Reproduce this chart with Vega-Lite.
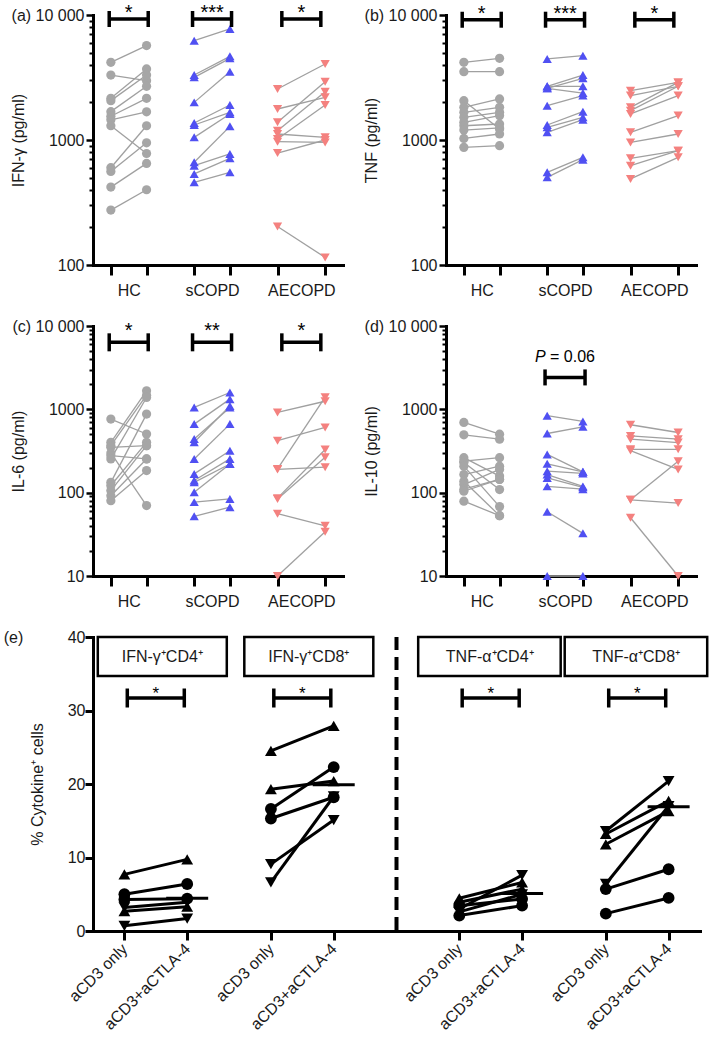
{
"$schema": "https://vega.github.io/schema/vega-lite/v6.json",
"padding": {"left": 3, "top": 2, "right": 0, "bottom": 0},
"background": "white",
"config": {
  "font": "Liberation Sans",
  "view": {"stroke": null},
  "axis": {"domainColor": "#000", "domainWidth": 3, "domainCap": "square", "tickColor": "#000", "tickWidth": 3, "labelFont": "Liberation Sans", "labelFontSize": 16, "labelColor": "#1a1a1a", "titleFont": "Liberation Sans", "titleFontSize": 16, "titleFontWeight": "normal", "titleColor": "#1a1a1a", "grid": false, "labelOverlap": false}
},
"datasets": {
  "ifng": [
    {"group":"HC","donor":"HC1","col":"HC|pre","value":4180},{"group":"HC","donor":"HC1","col":"HC|post","value":5690},
    {"group":"HC","donor":"HC2","col":"HC|pre","value":3310},{"group":"HC","donor":"HC2","col":"HC|post","value":2985},
    {"group":"HC","donor":"HC3","col":"HC|pre","value":2155},{"group":"HC","donor":"HC3","col":"HC|post","value":3700},
    {"group":"HC","donor":"HC4","col":"HC|pre","value":2065},{"group":"HC","donor":"HC4","col":"HC|post","value":3310},
    {"group":"HC","donor":"HC5","col":"HC|pre","value":1686},{"group":"HC","donor":"HC5","col":"HC|post","value":2690},
    {"group":"HC","donor":"HC6","col":"HC|pre","value":1550},{"group":"HC","donor":"HC6","col":"HC|post","value":2155},
    {"group":"HC","donor":"HC7","col":"HC|pre","value":1450},{"group":"HC","donor":"HC7","col":"HC|post","value":1680},
    {"group":"HC","donor":"HC8","col":"HC|pre","value":1300},{"group":"HC","donor":"HC8","col":"HC|post","value":780},
    {"group":"HC","donor":"HC9","col":"HC|pre","value":600},{"group":"HC","donor":"HC9","col":"HC|post","value":1300},
    {"group":"HC","donor":"HC10","col":"HC|pre","value":560},{"group":"HC","donor":"HC10","col":"HC|post","value":950},
    {"group":"HC","donor":"HC11","col":"HC|pre","value":420},{"group":"HC","donor":"HC11","col":"HC|post","value":650},
    {"group":"HC","donor":"HC12","col":"HC|pre","value":275},{"group":"HC","donor":"HC12","col":"HC|post","value":400},
    {"group":"sCOPD","donor":"S1","col":"sCOPD|pre","value":6230},{"group":"sCOPD","donor":"S1","col":"sCOPD|post","value":7730},
    {"group":"sCOPD","donor":"S2","col":"sCOPD|pre","value":3310},{"group":"sCOPD","donor":"S2","col":"sCOPD|post","value":4670},
    {"group":"sCOPD","donor":"S3","col":"sCOPD|pre","value":3170},{"group":"sCOPD","donor":"S3","col":"sCOPD|post","value":4500},
    {"group":"sCOPD","donor":"S4","col":"sCOPD|pre","value":2000},{"group":"sCOPD","donor":"S4","col":"sCOPD|post","value":3520},
    {"group":"sCOPD","donor":"S5","col":"sCOPD|pre","value":1368},{"group":"sCOPD","donor":"S5","col":"sCOPD|post","value":1905},
    {"group":"sCOPD","donor":"S6","col":"sCOPD|pre","value":1318},{"group":"sCOPD","donor":"S6","col":"sCOPD|post","value":1665},
    {"group":"sCOPD","donor":"S7","col":"sCOPD|pre","value":1050},{"group":"sCOPD","donor":"S7","col":"sCOPD|post","value":1615},
    {"group":"sCOPD","donor":"S8","col":"sCOPD|pre","value":663},{"group":"sCOPD","donor":"S8","col":"sCOPD|post","value":1286},
    {"group":"sCOPD","donor":"S9","col":"sCOPD|pre","value":623},{"group":"sCOPD","donor":"S9","col":"sCOPD|post","value":773},
    {"group":"sCOPD","donor":"S10","col":"sCOPD|pre","value":535},{"group":"sCOPD","donor":"S10","col":"sCOPD|post","value":714},
    {"group":"sCOPD","donor":"S11","col":"sCOPD|pre","value":459},{"group":"sCOPD","donor":"S11","col":"sCOPD|post","value":551},
    {"group":"AECOPD","donor":"A1","col":"AECOPD|pre","value":2560},{"group":"AECOPD","donor":"A1","col":"AECOPD|post","value":4055},
    {"group":"AECOPD","donor":"A2","col":"AECOPD|pre","value":1770},{"group":"AECOPD","donor":"A2","col":"AECOPD|post","value":2195},
    {"group":"AECOPD","donor":"A3","col":"AECOPD|pre","value":1385},{"group":"AECOPD","donor":"A3","col":"AECOPD|post","value":2930},
    {"group":"AECOPD","donor":"A4","col":"AECOPD|pre","value":1188},{"group":"AECOPD","donor":"A4","col":"AECOPD|post","value":2435},
    {"group":"AECOPD","donor":"A5","col":"AECOPD|pre","value":1117},{"group":"AECOPD","donor":"A5","col":"AECOPD|post","value":1050},
    {"group":"AECOPD","donor":"A6","col":"AECOPD|pre","value":1019},{"group":"AECOPD","donor":"A6","col":"AECOPD|post","value":1905},
    {"group":"AECOPD","donor":"A7","col":"AECOPD|pre","value":970},{"group":"AECOPD","donor":"A7","col":"AECOPD|post","value":957},
    {"group":"AECOPD","donor":"A8","col":"AECOPD|pre","value":787},{"group":"AECOPD","donor":"A8","col":"AECOPD|post","value":1000},
    {"group":"AECOPD","donor":"A9","col":"AECOPD|pre","value":203},{"group":"AECOPD","donor":"A9","col":"AECOPD|post","value":115}
  ],
  "tnf": [
    {"group":"HC","donor":"HC1","col":"HC|pre","value":4180},{"group":"HC","donor":"HC1","col":"HC|post","value":4500},
    {"group":"HC","donor":"HC2","col":"HC|pre","value":3520},{"group":"HC","donor":"HC2","col":"HC|post","value":3520},
    {"group":"HC","donor":"HC3","col":"HC|pre","value":2065},{"group":"HC","donor":"HC3","col":"HC|post","value":1225},
    {"group":"HC","donor":"HC4","col":"HC|pre","value":1825},{"group":"HC","donor":"HC4","col":"HC|post","value":2130},
    {"group":"HC","donor":"HC5","col":"HC|pre","value":1665},{"group":"HC","donor":"HC5","col":"HC|post","value":1825},
    {"group":"HC","donor":"HC6","col":"HC|pre","value":1520},{"group":"HC","donor":"HC6","col":"HC|post","value":1665},
    {"group":"HC","donor":"HC7","col":"HC|pre","value":1385},{"group":"HC","donor":"HC7","col":"HC|post","value":1567},
    {"group":"HC","donor":"HC8","col":"HC|pre","value":1300},{"group":"HC","donor":"HC8","col":"HC|post","value":1343},
    {"group":"HC","donor":"HC9","col":"HC|pre","value":1200},{"group":"HC","donor":"HC9","col":"HC|post","value":1250},
    {"group":"HC","donor":"HC10","col":"HC|pre","value":1030},{"group":"HC","donor":"HC10","col":"HC|post","value":1117},
    {"group":"HC","donor":"HC11","col":"HC|pre","value":873},{"group":"HC","donor":"HC11","col":"HC|post","value":901},
    {"group":"sCOPD","donor":"S1","col":"sCOPD|pre","value":4450},{"group":"sCOPD","donor":"S1","col":"sCOPD|post","value":4730},
    {"group":"sCOPD","donor":"S2","col":"sCOPD|pre","value":2690},{"group":"sCOPD","donor":"S2","col":"sCOPD|post","value":3310},
    {"group":"sCOPD","donor":"S3","col":"sCOPD|pre","value":2690},{"group":"sCOPD","donor":"S3","col":"sCOPD|post","value":2690},
    {"group":"sCOPD","donor":"S4","col":"sCOPD|pre","value":2590},{"group":"sCOPD","donor":"S4","col":"sCOPD|post","value":3115},
    {"group":"sCOPD","donor":"S5","col":"sCOPD|pre","value":2590},{"group":"sCOPD","donor":"S5","col":"sCOPD|post","value":2375},
    {"group":"sCOPD","donor":"S6","col":"sCOPD|pre","value":1883},{"group":"sCOPD","donor":"S6","col":"sCOPD|post","value":2265},
    {"group":"sCOPD","donor":"S7","col":"sCOPD|pre","value":1318},{"group":"sCOPD","donor":"S7","col":"sCOPD|post","value":1686},
    {"group":"sCOPD","donor":"S8","col":"sCOPD|pre","value":1262},{"group":"sCOPD","donor":"S8","col":"sCOPD|post","value":1518},
    {"group":"sCOPD","donor":"S9","col":"sCOPD|pre","value":1152},{"group":"sCOPD","donor":"S9","col":"sCOPD|post","value":1455},
    {"group":"sCOPD","donor":"S10","col":"sCOPD|pre","value":551},{"group":"sCOPD","donor":"S10","col":"sCOPD|post","value":727},
    {"group":"sCOPD","donor":"S11","col":"sCOPD|pre","value":503},{"group":"sCOPD","donor":"S11","col":"sCOPD|post","value":696},
    {"group":"AECOPD","donor":"A1","col":"AECOPD|pre","value":2480},{"group":"AECOPD","donor":"A1","col":"AECOPD|post","value":2890},
    {"group":"AECOPD","donor":"A2","col":"AECOPD|pre","value":2265},{"group":"AECOPD","donor":"A2","col":"AECOPD|post","value":2690},
    {"group":"AECOPD","donor":"A3","col":"AECOPD|pre","value":1825},{"group":"AECOPD","donor":"A3","col":"AECOPD|post","value":2890},
    {"group":"AECOPD","donor":"A4","col":"AECOPD|pre","value":1717},{"group":"AECOPD","donor":"A4","col":"AECOPD|post","value":2690},
    {"group":"AECOPD","donor":"A5","col":"AECOPD|pre","value":1615},{"group":"AECOPD","donor":"A5","col":"AECOPD|post","value":2265},
    {"group":"AECOPD","donor":"A6","col":"AECOPD|pre","value":1152},{"group":"AECOPD","donor":"A6","col":"AECOPD|post","value":1567},
    {"group":"AECOPD","donor":"A7","col":"AECOPD|pre","value":957},{"group":"AECOPD","donor":"A7","col":"AECOPD|post","value":1117},
    {"group":"AECOPD","donor":"A8","col":"AECOPD|pre","value":714},{"group":"AECOPD","donor":"A8","col":"AECOPD|post","value":822},
    {"group":"AECOPD","donor":"A9","col":"AECOPD|pre","value":623},{"group":"AECOPD","donor":"A9","col":"AECOPD|post","value":822},
    {"group":"AECOPD","donor":"A10","col":"AECOPD|pre","value":488},{"group":"AECOPD","donor":"A10","col":"AECOPD|post","value":727}
  ],
  "il6": [
    {"group":"HC","donor":"HC1","col":"HC|pre","value":764},{"group":"HC","donor":"HC1","col":"HC|post","value":506},
    {"group":"HC","donor":"HC2","col":"HC|pre","value":402},{"group":"HC","donor":"HC2","col":"HC|post","value":1667},
    {"group":"HC","donor":"HC3","col":"HC|pre","value":366},{"group":"HC","donor":"HC3","col":"HC|post","value":1480},
    {"group":"HC","donor":"HC4","col":"HC|pre","value":350},{"group":"HC","donor":"HC4","col":"HC|post","value":366},
    {"group":"HC","donor":"HC5","col":"HC|pre","value":300},{"group":"HC","donor":"HC5","col":"HC|post","value":70},
    {"group":"HC","donor":"HC6","col":"HC|pre","value":278},{"group":"HC","donor":"HC6","col":"HC|post","value":254},
    {"group":"HC","donor":"HC7","col":"HC|pre","value":254},{"group":"HC","donor":"HC7","col":"HC|post","value":1388},
    {"group":"HC","donor":"HC8","col":"HC|pre","value":133},{"group":"HC","donor":"HC8","col":"HC|post","value":877},
    {"group":"HC","donor":"HC9","col":"HC|pre","value":122},{"group":"HC","donor":"HC9","col":"HC|post","value":402},
    {"group":"HC","donor":"HC10","col":"HC|pre","value":106},{"group":"HC","donor":"HC10","col":"HC|post","value":366},
    {"group":"HC","donor":"HC11","col":"HC|pre","value":92},{"group":"HC","donor":"HC11","col":"HC|post","value":254},
    {"group":"HC","donor":"HC12","col":"HC|pre","value":80},{"group":"HC","donor":"HC12","col":"HC|post","value":184},
    {"group":"sCOPD","donor":"S1","col":"sCOPD|pre","value":1054},{"group":"sCOPD","donor":"S1","col":"sCOPD|post","value":1592},
    {"group":"sCOPD","donor":"S2","col":"sCOPD|pre","value":665},{"group":"sCOPD","donor":"S2","col":"sCOPD|post","value":1325},
    {"group":"sCOPD","donor":"S3","col":"sCOPD|pre","value":440},{"group":"sCOPD","donor":"S3","col":"sCOPD|post","value":1054},
    {"group":"sCOPD","donor":"S4","col":"sCOPD|pre","value":402},{"group":"sCOPD","donor":"S4","col":"sCOPD|post","value":1100},
    {"group":"sCOPD","donor":"S5","col":"sCOPD|pre","value":254},{"group":"sCOPD","donor":"S5","col":"sCOPD|post","value":665},
    {"group":"sCOPD","donor":"S6","col":"sCOPD|pre","value":168},{"group":"sCOPD","donor":"S6","col":"sCOPD|post","value":319},
    {"group":"sCOPD","donor":"S7","col":"sCOPD|pre","value":140},{"group":"sCOPD","donor":"S7","col":"sCOPD|post","value":254},
    {"group":"sCOPD","donor":"S8","col":"sCOPD|pre","value":133},{"group":"sCOPD","donor":"S8","col":"sCOPD|post","value":221},
    {"group":"sCOPD","donor":"S9","col":"sCOPD|pre","value":101},{"group":"sCOPD","donor":"S9","col":"sCOPD|post","value":221},
    {"group":"sCOPD","donor":"S10","col":"sCOPD|pre","value":77},{"group":"sCOPD","donor":"S10","col":"sCOPD|post","value":84},
    {"group":"sCOPD","donor":"S11","col":"sCOPD|pre","value":52},{"group":"sCOPD","donor":"S11","col":"sCOPD|post","value":67},
    {"group":"AECOPD","donor":"A1","col":"AECOPD|pre","value":918},{"group":"AECOPD","donor":"A1","col":"AECOPD|post","value":1250},
    {"group":"AECOPD","donor":"A2","col":"AECOPD|pre","value":421},{"group":"AECOPD","donor":"A2","col":"AECOPD|post","value":607},
    {"group":"AECOPD","donor":"A3","col":"AECOPD|pre","value":193},{"group":"AECOPD","donor":"A3","col":"AECOPD|post","value":1400},
    {"group":"AECOPD","donor":"A4","col":"AECOPD|pre","value":84},{"group":"AECOPD","donor":"A4","col":"AECOPD|post","value":266},
    {"group":"AECOPD","donor":"A5","col":"AECOPD|pre","value":86},{"group":"AECOPD","donor":"A5","col":"AECOPD|post","value":330},
    {"group":"AECOPD","donor":"A6","col":"AECOPD|pre","value":190},{"group":"AECOPD","donor":"A6","col":"AECOPD|post","value":202},
    {"group":"AECOPD","donor":"A7","col":"AECOPD|pre","value":56},{"group":"AECOPD","donor":"A7","col":"AECOPD|post","value":40},
    {"group":"AECOPD","donor":"A8","col":"AECOPD|pre","value":10},{"group":"AECOPD","donor":"A8","col":"AECOPD|post","value":34}
  ],
  "il10": [
    {"group":"HC","donor":"HC1","col":"HC|pre","value":696},{"group":"HC","donor":"HC1","col":"HC|post","value":503},
    {"group":"HC","donor":"HC2","col":"HC|pre","value":494},{"group":"HC","donor":"HC2","col":"HC|post","value":438},
    {"group":"HC","donor":"HC3","col":"HC|pre","value":263},{"group":"HC","donor":"HC3","col":"HC|post","value":158},
    {"group":"HC","donor":"HC4","col":"HC|pre","value":239},{"group":"HC","donor":"HC4","col":"HC|post","value":263},
    {"group":"HC","donor":"HC5","col":"HC|pre","value":230},{"group":"HC","donor":"HC5","col":"HC|post","value":109},
    {"group":"HC","donor":"HC6","col":"HC|pre","value":208},{"group":"HC","donor":"HC6","col":"HC|post","value":68},
    {"group":"HC","donor":"HC7","col":"HC|pre","value":165},{"group":"HC","donor":"HC7","col":"HC|post","value":208},
    {"group":"HC","donor":"HC8","col":"HC|pre","value":137},{"group":"HC","donor":"HC8","col":"HC|post","value":53},
    {"group":"HC","donor":"HC9","col":"HC|pre","value":125},{"group":"HC","donor":"HC9","col":"HC|post","value":190},
    {"group":"HC","donor":"HC10","col":"HC|pre","value":110},{"group":"HC","donor":"HC10","col":"HC|post","value":144},
    {"group":"HC","donor":"HC11","col":"HC|pre","value":104},{"group":"HC","donor":"HC11","col":"HC|post","value":144},
    {"group":"HC","donor":"HC12","col":"HC|pre","value":79},{"group":"HC","donor":"HC12","col":"HC|post","value":53},
    {"group":"sCOPD","donor":"S1","col":"sCOPD|pre","value":838},{"group":"sCOPD","donor":"S1","col":"sCOPD|post","value":716},
    {"group":"sCOPD","donor":"S2","col":"sCOPD|pre","value":513},{"group":"sCOPD","donor":"S2","col":"sCOPD|post","value":617},
    {"group":"sCOPD","donor":"S3","col":"sCOPD|pre","value":288},{"group":"sCOPD","donor":"S3","col":"sCOPD|post","value":178},
    {"group":"sCOPD","donor":"S4","col":"sCOPD|pre","value":222},{"group":"sCOPD","donor":"S4","col":"sCOPD|post","value":178},
    {"group":"sCOPD","donor":"S5","col":"sCOPD|pre","value":181},{"group":"sCOPD","donor":"S5","col":"sCOPD|post","value":170},
    {"group":"sCOPD","donor":"S6","col":"sCOPD|pre","value":165},{"group":"sCOPD","donor":"S6","col":"sCOPD|post","value":119},
    {"group":"sCOPD","donor":"S7","col":"sCOPD|pre","value":150},{"group":"sCOPD","donor":"S7","col":"sCOPD|post","value":116},
    {"group":"sCOPD","donor":"S8","col":"sCOPD|pre","value":119},{"group":"sCOPD","donor":"S8","col":"sCOPD|post","value":110},
    {"group":"sCOPD","donor":"S9","col":"sCOPD|pre","value":59},{"group":"sCOPD","donor":"S9","col":"sCOPD|post","value":32.5},
    {"group":"sCOPD","donor":"S10","col":"sCOPD|pre","value":10},{"group":"sCOPD","donor":"S10","col":"sCOPD|post","value":10},
    {"group":"AECOPD","donor":"A1","col":"AECOPD|pre","value":653},{"group":"AECOPD","donor":"A1","col":"AECOPD|post","value":527},
    {"group":"AECOPD","donor":"A2","col":"AECOPD|pre","value":480},{"group":"AECOPD","donor":"A2","col":"AECOPD|post","value":438},
    {"group":"AECOPD","donor":"A3","col":"AECOPD|pre","value":438},{"group":"AECOPD","donor":"A3","col":"AECOPD|post","value":399},
    {"group":"AECOPD","donor":"A4","col":"AECOPD|pre","value":331},{"group":"AECOPD","donor":"A4","col":"AECOPD|post","value":331},
    {"group":"AECOPD","donor":"A5","col":"AECOPD|pre","value":320},{"group":"AECOPD","donor":"A5","col":"AECOPD|post","value":190},
    {"group":"AECOPD","donor":"A6","col":"AECOPD|pre","value":82},{"group":"AECOPD","donor":"A6","col":"AECOPD|post","value":239},
    {"group":"AECOPD","donor":"A7","col":"AECOPD|pre","value":82},{"group":"AECOPD","donor":"A7","col":"AECOPD|post","value":75},
    {"group":"AECOPD","donor":"A8","col":"AECOPD|pre","value":50},{"group":"AECOPD","donor":"A8","col":"AECOPD|post","value":10}
  ],
  "cells": [
    {"group":"sCOPD","donor":"I4-1","col":"IFN4|aCD3 only","value":7.7},{"group":"sCOPD","donor":"I4-1","col":"IFN4|aCD3+aCTLA-4","value":9.75},
    {"group":"sCOPD","donor":"I4-2","col":"IFN4|aCD3 only","value":2.7},{"group":"sCOPD","donor":"I4-2","col":"IFN4|aCD3+aCTLA-4","value":3.3},
    {"group":"HC","donor":"I4-3","col":"IFN4|aCD3 only","value":5.0},{"group":"HC","donor":"I4-3","col":"IFN4|aCD3+aCTLA-4","value":6.4},
    {"group":"HC","donor":"I4-4","col":"IFN4|aCD3 only","value":4.3},{"group":"HC","donor":"I4-4","col":"IFN4|aCD3+aCTLA-4","value":4.4},
    {"group":"AECOPD","donor":"I4-5","col":"IFN4|aCD3 only","value":3.2},{"group":"AECOPD","donor":"I4-5","col":"IFN4|aCD3+aCTLA-4","value":3.9},
    {"group":"AECOPD","donor":"I4-6","col":"IFN4|aCD3 only","value":0.7},{"group":"AECOPD","donor":"I4-6","col":"IFN4|aCD3+aCTLA-4","value":1.7},
    {"group":"sCOPD","donor":"I8-1","col":"IFN8|aCD3 only","value":24.5},{"group":"sCOPD","donor":"I8-1","col":"IFN8|aCD3+aCTLA-4","value":27.9},
    {"group":"sCOPD","donor":"I8-2","col":"IFN8|aCD3 only","value":19.3},{"group":"sCOPD","donor":"I8-2","col":"IFN8|aCD3+aCTLA-4","value":20.4},
    {"group":"HC","donor":"I8-3","col":"IFN8|aCD3 only","value":16.6},{"group":"HC","donor":"I8-3","col":"IFN8|aCD3+aCTLA-4","value":22.3},
    {"group":"HC","donor":"I8-4","col":"IFN8|aCD3 only","value":15.3},{"group":"HC","donor":"I8-4","col":"IFN8|aCD3+aCTLA-4","value":18.2},
    {"group":"AECOPD","donor":"I8-5","col":"IFN8|aCD3 only","value":9.1},{"group":"AECOPD","donor":"I8-5","col":"IFN8|aCD3+aCTLA-4","value":15.1},
    {"group":"AECOPD","donor":"I8-6","col":"IFN8|aCD3 only","value":6.6},{"group":"AECOPD","donor":"I8-6","col":"IFN8|aCD3+aCTLA-4","value":18.3},
    {"group":"sCOPD","donor":"T4-1","col":"TNF4|aCD3 only","value":4.45},{"group":"sCOPD","donor":"T4-1","col":"TNF4|aCD3+aCTLA-4","value":6.6},
    {"group":"sCOPD","donor":"T4-2","col":"TNF4|aCD3 only","value":3.9},{"group":"sCOPD","donor":"T4-2","col":"TNF4|aCD3+aCTLA-4","value":5.7},
    {"group":"HC","donor":"T4-3","col":"TNF4|aCD3 only","value":3.45},{"group":"HC","donor":"T4-3","col":"TNF4|aCD3+aCTLA-4","value":4.35},
    {"group":"HC","donor":"T4-4","col":"TNF4|aCD3 only","value":2.1},{"group":"HC","donor":"T4-4","col":"TNF4|aCD3+aCTLA-4","value":3.45},
    {"group":"AECOPD","donor":"T4-5","col":"TNF4|aCD3 only","value":3.0},{"group":"AECOPD","donor":"T4-5","col":"TNF4|aCD3+aCTLA-4","value":7.6},
    {"group":"AECOPD","donor":"T4-6","col":"TNF4|aCD3 only","value":2.6},{"group":"AECOPD","donor":"T4-6","col":"TNF4|aCD3+aCTLA-4","value":5.0},
    {"group":"AECOPD","donor":"T8-1","col":"TNF8|aCD3 only","value":13.6},{"group":"AECOPD","donor":"T8-1","col":"TNF8|aCD3+aCTLA-4","value":20.4},
    {"group":"AECOPD","donor":"T8-2","col":"TNF8|aCD3 only","value":6.4},{"group":"AECOPD","donor":"T8-2","col":"TNF8|aCD3+aCTLA-4","value":17.0},
    {"group":"sCOPD","donor":"T8-3","col":"TNF8|aCD3 only","value":13.2},{"group":"sCOPD","donor":"T8-3","col":"TNF8|aCD3+aCTLA-4","value":17.7},
    {"group":"sCOPD","donor":"T8-4","col":"TNF8|aCD3 only","value":11.8},{"group":"sCOPD","donor":"T8-4","col":"TNF8|aCD3+aCTLA-4","value":16.3},
    {"group":"HC","donor":"T8-5","col":"TNF8|aCD3 only","value":5.7},{"group":"HC","donor":"T8-5","col":"TNF8|aCD3+aCTLA-4","value":8.4},
    {"group":"HC","donor":"T8-6","col":"TNF8|aCD3 only","value":2.36},{"group":"HC","donor":"T8-6","col":"TNF8|aCD3+aCTLA-4","value":4.5}
  ],
  "sig_a": [{"group":"HC","level":9290,"label":"*"},{"group":"sCOPD","level":9290,"label":"***"},{"group":"AECOPD","level":9290,"label":"*"}],
  "sig_b": [{"group":"HC","level":9170,"label":"*"},{"group":"sCOPD","level":9170,"label":"***"},{"group":"AECOPD","level":9170,"label":"*"}],
  "sig_c": [{"group":"HC","level":6370,"label":"*"},{"group":"sCOPD","level":6370,"label":"**"},{"group":"AECOPD","level":6370,"label":"*"}],
  "sig_d": [{"group":"sCOPD","level":2415,"label":"P = 0.06"}],
  "sig_e": [{"panel":"IFN4","level":31.7,"label":"*"},{"panel":"IFN8","level":31.7,"label":"*"},{"panel":"TNF4","level":31.7,"label":"*"},{"panel":"TNF8","level":31.7,"label":"*"}],
  "boxes_e": [
    {"panel":"IFN4","kind":"IFN","name":"IFN-γ⁺CD4⁺","lo":34.7,"hi":40},
    {"panel":"IFN8","kind":"IFN","name":"IFN-γ⁺CD8⁺","lo":34.7,"hi":40},
    {"panel":"TNF4","kind":"TNF","name":"TNF-α⁺CD4⁺","lo":34.7,"hi":40},
    {"panel":"TNF8","kind":"TNF","name":"TNF-α⁺CD8⁺","lo":34.7,"hi":40}
  ],
  "means_e": [
    {"col":"IFN4|aCD3+aCTLA-4","value":4.44},{"col":"IFN8|aCD3+aCTLA-4","value":19.9},
    {"col":"TNF4|aCD3+aCTLA-4","value":5.1},{"col":"TNF8|aCD3+aCTLA-4","value":16.9}
  ],
  "divider_e": [{"col":"mid","lo":0,"hi":40}]
},
"spacing": 20,
"vconcat": [
 {"hconcat": [
  {"width": 250, "height": 250,
   "layer": [
    {"data": {"name": "ifng"}, "mark": {"type": "line", "color": "#a0a0a0", "strokeWidth": 1.3},
     "encoding": {
      "x": {"field": "col", "type": "nominal", "scale": {"type": "point", "padding": 0, "domain": ["_m3","_m2","_m1","HC|pre","_1","_2","HC","_4","_5","HC|post","_7","_8","_9","_10","_11","_12","_13","sCOPD|pre","_15","_16","sCOPD","_18","_19","sCOPD|post","_21","_22","_23","_24","_25","_26","_27","AECOPD|pre","_29","_30","_31","AECOPD","_33","_34","_35","AECOPD|post","_p1","_p2","_p3"]},
            "axis": {"title": null, "values": ["HC|pre","HC","HC|post","sCOPD|pre","sCOPD","sCOPD|post","AECOPD|pre","AECOPD","AECOPD|post"], "labelExpr": "indexof(datum.value, '|') < 0 ? datum.value : ''", "labelFontSize": {"condition": {"test": "indexof(datum.value, '|') < 0", "value": 16}, "value": 0}, "tickSize": {"condition": {"test": "indexof(datum.value, '|') < 0", "value": 0}, "value": 10}, "labelPadding": 17, "labelAngle": 0}},
      "y": {"field": "value", "type": "quantitative", "scale": {"type": "log", "domain": [100, 10000], "nice": false},
            "axis": {"title": "IFN-γ (pg/ml)", "titleX": -67, "values": [100,200,300,400,500,600,700,800,900,1000,2000,3000,4000,5000,6000,7000,8000,9000,10000], "labelExpr": "datum.value == 10000 ? '(a)\u00a010 000' : datum.value == 1000 ? '1000' : datum.value == 100 ? '100' : ''", "tickSize": {"condition": {"test": "datum.value == 100 || datum.value == 1000 || datum.value == 10000", "value": 7}, "value": 4}, "tickWidth": {"condition": {"test": "datum.value == 100 || datum.value == 1000 || datum.value == 10000", "value": 2.5}, "value": 2}, "labelPadding": 2}},
      "detail": {"field": "donor"}}},
    {"data": {"name": "ifng"}, "mark": {"type": "point", "filled": true, "opacity": 1, "size": 85},
     "encoding": {"x": {"field": "col", "type": "nominal"}, "y": {"field": "value", "type": "quantitative"},
      "color": {"field": "group", "type": "nominal", "scale": {"domain": ["HC","sCOPD","AECOPD"], "range": ["#a6a6a6","#5050f2","#f4817f"]}, "legend": null},
      "shape": {"field": "group", "type": "nominal", "scale": {"domain": ["HC","sCOPD","AECOPD"], "range": ["circle","triangle-up","triangle-down"]}, "legend": null}}},
    {"data": {"name": "sig_a"}, "mark": {"type": "rule", "strokeWidth": 3.5, "color": "black", "xOffset": -19.5, "x2Offset": 19.5},
     "encoding": {"x": {"field": "group", "type": "nominal"}, "x2": {"field": "group"}, "y": {"field": "level", "type": "quantitative"}}},
    {"data": {"name": "sig_a"}, "mark": {"type": "tick", "orient": "vertical", "size": 16, "thickness": 3.5, "color": "black", "opacity": 1, "xOffset": -19.5},
     "encoding": {"x": {"field": "group", "type": "nominal"}, "y": {"field": "level", "type": "quantitative"}}},
    {"data": {"name": "sig_a"}, "mark": {"type": "tick", "orient": "vertical", "size": 16, "thickness": 3.5, "color": "black", "opacity": 1, "xOffset": 19.5},
     "encoding": {"x": {"field": "group", "type": "nominal"}, "y": {"field": "level", "type": "quantitative"}}},
    {"data": {"name": "sig_a"}, "mark": {"type": "text", "fontSize": 20, "dy": 0, "baseline": "alphabetic", "align": "center", "color": "black"},
     "encoding": {"x": {"field": "group", "type": "nominal"}, "y": {"field": "level", "type": "quantitative"}, "text": {"field": "label"}}}
   ]},
  {"width": 250, "height": 250,
   "layer": [
    {"data": {"name": "tnf"}, "mark": {"type": "line", "color": "#a0a0a0", "strokeWidth": 1.3},
     "encoding": {
      "x": {"field": "col", "type": "nominal", "scale": {"type": "point", "padding": 0, "domain": ["_m3","_m2","_m1","HC|pre","_1","_2","HC","_4","_5","HC|post","_7","_8","_9","_10","_11","_12","_13","sCOPD|pre","_15","_16","sCOPD","_18","_19","sCOPD|post","_21","_22","_23","_24","_25","_26","_27","AECOPD|pre","_29","_30","_31","AECOPD","_33","_34","_35","AECOPD|post","_p1","_p2","_p3"]},
            "axis": {"title": null, "values": ["HC|pre","HC","HC|post","sCOPD|pre","sCOPD","sCOPD|post","AECOPD|pre","AECOPD","AECOPD|post"], "labelExpr": "indexof(datum.value, '|') < 0 ? datum.value : ''", "labelFontSize": {"condition": {"test": "indexof(datum.value, '|') < 0", "value": 16}, "value": 0}, "tickSize": {"condition": {"test": "indexof(datum.value, '|') < 0", "value": 0}, "value": 10}, "labelPadding": 17, "labelAngle": 0}},
      "y": {"field": "value", "type": "quantitative", "scale": {"type": "log", "domain": [100, 10000], "nice": false},
            "axis": {"title": "TNF (pg/ml)", "titleX": -67, "values": [100,200,300,400,500,600,700,800,900,1000,2000,3000,4000,5000,6000,7000,8000,9000,10000], "labelExpr": "datum.value == 10000 ? '(b)\u00a010 000' : datum.value == 1000 ? '1000' : datum.value == 100 ? '100' : ''", "tickSize": {"condition": {"test": "datum.value == 100 || datum.value == 1000 || datum.value == 10000", "value": 7}, "value": 4}, "tickWidth": {"condition": {"test": "datum.value == 100 || datum.value == 1000 || datum.value == 10000", "value": 2.5}, "value": 2}, "labelPadding": 2}},
      "detail": {"field": "donor"}}},
    {"data": {"name": "tnf"}, "mark": {"type": "point", "filled": true, "opacity": 1, "size": 85},
     "encoding": {"x": {"field": "col", "type": "nominal"}, "y": {"field": "value", "type": "quantitative"},
      "color": {"field": "group", "type": "nominal", "scale": {"domain": ["HC","sCOPD","AECOPD"], "range": ["#a6a6a6","#5050f2","#f4817f"]}, "legend": null},
      "shape": {"field": "group", "type": "nominal", "scale": {"domain": ["HC","sCOPD","AECOPD"], "range": ["circle","triangle-up","triangle-down"]}, "legend": null}}},
    {"data": {"name": "sig_b"}, "mark": {"type": "rule", "strokeWidth": 3.5, "color": "black", "xOffset": -19.5, "x2Offset": 19.5},
     "encoding": {"x": {"field": "group", "type": "nominal"}, "x2": {"field": "group"}, "y": {"field": "level", "type": "quantitative"}}},
    {"data": {"name": "sig_b"}, "mark": {"type": "tick", "orient": "vertical", "size": 16, "thickness": 3.5, "color": "black", "opacity": 1, "xOffset": -19.5},
     "encoding": {"x": {"field": "group", "type": "nominal"}, "y": {"field": "level", "type": "quantitative"}}},
    {"data": {"name": "sig_b"}, "mark": {"type": "tick", "orient": "vertical", "size": 16, "thickness": 3.5, "color": "black", "opacity": 1, "xOffset": 19.5},
     "encoding": {"x": {"field": "group", "type": "nominal"}, "y": {"field": "level", "type": "quantitative"}}},
    {"data": {"name": "sig_b"}, "mark": {"type": "text", "fontSize": 20, "dy": 0, "baseline": "alphabetic", "align": "center", "color": "black"},
     "encoding": {"x": {"field": "group", "type": "nominal"}, "y": {"field": "level", "type": "quantitative"}, "text": {"field": "label"}}}
   ]}
 ]},
 {"hconcat": [
  {"width": 250, "height": 250,
   "layer": [
    {"data": {"name": "il6"}, "mark": {"type": "line", "color": "#a0a0a0", "strokeWidth": 1.3},
     "encoding": {
      "x": {"field": "col", "type": "nominal", "scale": {"type": "point", "padding": 0, "domain": ["_m3","_m2","_m1","HC|pre","_1","_2","HC","_4","_5","HC|post","_7","_8","_9","_10","_11","_12","_13","sCOPD|pre","_15","_16","sCOPD","_18","_19","sCOPD|post","_21","_22","_23","_24","_25","_26","_27","AECOPD|pre","_29","_30","_31","AECOPD","_33","_34","_35","AECOPD|post","_p1","_p2","_p3"]},
            "axis": {"title": null, "values": ["HC|pre","HC","HC|post","sCOPD|pre","sCOPD","sCOPD|post","AECOPD|pre","AECOPD","AECOPD|post"], "labelExpr": "indexof(datum.value, '|') < 0 ? datum.value : ''", "labelFontSize": {"condition": {"test": "indexof(datum.value, '|') < 0", "value": 16}, "value": 0}, "tickSize": {"condition": {"test": "indexof(datum.value, '|') < 0", "value": 0}, "value": 10}, "labelPadding": 17, "labelAngle": 0}},
      "y": {"field": "value", "type": "quantitative", "scale": {"type": "log", "domain": [10, 10000], "nice": false},
            "axis": {"title": "IL-6 (pg/ml)", "titleX": -67, "values": [10,20,30,40,50,60,70,80,90,100,200,300,400,500,600,700,800,900,1000,2000,3000,4000,5000,6000,7000,8000,9000,10000], "labelExpr": "datum.value == 10000 ? '(c)\u00a010 000' : datum.value == 1000 ? '1000' : datum.value == 100 ? '100' : datum.value == 10 ? '10' : ''", "tickSize": {"condition": {"test": "datum.value == 10 || datum.value == 100 || datum.value == 1000 || datum.value == 10000", "value": 7}, "value": 4}, "tickWidth": {"condition": {"test": "datum.value == 10 || datum.value == 100 || datum.value == 1000 || datum.value == 10000", "value": 2.5}, "value": 2}, "labelPadding": 2}},
      "detail": {"field": "donor"}}},
    {"data": {"name": "il6"}, "mark": {"type": "point", "filled": true, "opacity": 1, "size": 85},
     "encoding": {"x": {"field": "col", "type": "nominal"}, "y": {"field": "value", "type": "quantitative"},
      "color": {"field": "group", "type": "nominal", "scale": {"domain": ["HC","sCOPD","AECOPD"], "range": ["#a6a6a6","#5050f2","#f4817f"]}, "legend": null},
      "shape": {"field": "group", "type": "nominal", "scale": {"domain": ["HC","sCOPD","AECOPD"], "range": ["circle","triangle-up","triangle-down"]}, "legend": null}}},
    {"data": {"name": "sig_c"}, "mark": {"type": "rule", "strokeWidth": 3.5, "color": "black", "xOffset": -19.5, "x2Offset": 19.5},
     "encoding": {"x": {"field": "group", "type": "nominal"}, "x2": {"field": "group"}, "y": {"field": "level", "type": "quantitative"}}},
    {"data": {"name": "sig_c"}, "mark": {"type": "tick", "orient": "vertical", "size": 18, "thickness": 3.5, "color": "black", "opacity": 1, "xOffset": -19.5},
     "encoding": {"x": {"field": "group", "type": "nominal"}, "y": {"field": "level", "type": "quantitative"}}},
    {"data": {"name": "sig_c"}, "mark": {"type": "tick", "orient": "vertical", "size": 18, "thickness": 3.5, "color": "black", "opacity": 1, "xOffset": 19.5},
     "encoding": {"x": {"field": "group", "type": "nominal"}, "y": {"field": "level", "type": "quantitative"}}},
    {"data": {"name": "sig_c"}, "mark": {"type": "text", "fontSize": 20, "dy": -5, "baseline": "alphabetic", "align": "center", "color": "black"},
     "encoding": {"x": {"field": "group", "type": "nominal"}, "y": {"field": "level", "type": "quantitative"}, "text": {"field": "label"}}}
   ]},
  {"width": 250, "height": 250,
   "layer": [
    {"data": {"name": "il10"}, "mark": {"type": "line", "color": "#a0a0a0", "strokeWidth": 1.3},
     "encoding": {
      "x": {"field": "col", "type": "nominal", "scale": {"type": "point", "padding": 0, "domain": ["_m3","_m2","_m1","HC|pre","_1","_2","HC","_4","_5","HC|post","_7","_8","_9","_10","_11","_12","_13","sCOPD|pre","_15","_16","sCOPD","_18","_19","sCOPD|post","_21","_22","_23","_24","_25","_26","_27","AECOPD|pre","_29","_30","_31","AECOPD","_33","_34","_35","AECOPD|post","_p1","_p2","_p3"]},
            "axis": {"title": null, "values": ["HC|pre","HC","HC|post","sCOPD|pre","sCOPD","sCOPD|post","AECOPD|pre","AECOPD","AECOPD|post"], "labelExpr": "indexof(datum.value, '|') < 0 ? datum.value : ''", "labelFontSize": {"condition": {"test": "indexof(datum.value, '|') < 0", "value": 16}, "value": 0}, "tickSize": {"condition": {"test": "indexof(datum.value, '|') < 0", "value": 0}, "value": 10}, "labelPadding": 17, "labelAngle": 0}},
      "y": {"field": "value", "type": "quantitative", "scale": {"type": "log", "domain": [10, 10000], "nice": false},
            "axis": {"title": "IL-10 (pg/ml)", "titleX": -67, "values": [10,20,30,40,50,60,70,80,90,100,200,300,400,500,600,700,800,900,1000,2000,3000,4000,5000,6000,7000,8000,9000,10000], "labelExpr": "datum.value == 10000 ? '(d)\u00a010 000' : datum.value == 1000 ? '1000' : datum.value == 100 ? '100' : datum.value == 10 ? '10' : ''", "tickSize": {"condition": {"test": "datum.value == 10 || datum.value == 100 || datum.value == 1000 || datum.value == 10000", "value": 7}, "value": 4}, "tickWidth": {"condition": {"test": "datum.value == 10 || datum.value == 100 || datum.value == 1000 || datum.value == 10000", "value": 2.5}, "value": 2}, "labelPadding": 2}},
      "detail": {"field": "donor"}}},
    {"data": {"name": "il10"}, "mark": {"type": "point", "filled": true, "opacity": 1, "size": 85},
     "encoding": {"x": {"field": "col", "type": "nominal"}, "y": {"field": "value", "type": "quantitative"},
      "color": {"field": "group", "type": "nominal", "scale": {"domain": ["HC","sCOPD","AECOPD"], "range": ["#a6a6a6","#5050f2","#f4817f"]}, "legend": null},
      "shape": {"field": "group", "type": "nominal", "scale": {"domain": ["HC","sCOPD","AECOPD"], "range": ["circle","triangle-up","triangle-down"]}, "legend": null}}},
    {"data": {"name": "sig_d"}, "mark": {"type": "rule", "strokeWidth": 3.5, "color": "black", "xOffset": -20, "x2Offset": 20},
     "encoding": {"x": {"field": "group", "type": "nominal"}, "x2": {"field": "group"}, "y": {"field": "level", "type": "quantitative"}}},
    {"data": {"name": "sig_d"}, "mark": {"type": "tick", "orient": "vertical", "size": 16, "thickness": 3.5, "color": "black", "opacity": 1, "xOffset": -20},
     "encoding": {"x": {"field": "group", "type": "nominal"}, "y": {"field": "level", "type": "quantitative"}}},
    {"data": {"name": "sig_d"}, "mark": {"type": "tick", "orient": "vertical", "size": 16, "thickness": 3.5, "color": "black", "opacity": 1, "xOffset": 20},
     "encoding": {"x": {"field": "group", "type": "nominal"}, "y": {"field": "level", "type": "quantitative"}}},
    {"data": {"name": "sig_d"}, "mark": {"type": "text", "fontSize": 16, "fontStyle": "italic", "dx": -30, "dy": -15, "baseline": "alphabetic", "align": "left", "color": "black"},
     "encoding": {"x": {"field": "group", "type": "nominal"}, "y": {"field": "level", "type": "quantitative"}, "text": {"value": "P"}}},
    {"data": {"name": "sig_d"}, "mark": {"type": "text", "fontSize": 16, "dx": -15, "dy": -15, "baseline": "alphabetic", "align": "left", "color": "black"},
     "encoding": {"x": {"field": "group", "type": "nominal"}, "y": {"field": "level", "type": "quantitative"}, "text": {"value": "= 0.06"}}}
   ]}
 ]},
 {"width": 607, "height": 294,
  "layer": [
   {"data": {"name": "cells"}, "mark": {"type": "line", "color": "black", "strokeWidth": 3},
    "encoding": {
     "x": {"field": "col", "type": "nominal", "scale": {"type": "point", "padding": 0, "domain": ["_m3","_m2","_m1","IFN4|aCD3 only","_1","_2","IFN4","_4","_5","IFN4|aCD3+aCTLA-4","_7","_8","_9","_10","_11","_12","_13","IFN8|aCD3 only","_15","_16","IFN8","_18","_19","IFN8|aCD3+aCTLA-4","_21","_22","_23","_24","_25","mid","_27","_28","_29","_30","_31","TNF4|aCD3 only","_33","_34","TNF4","_36","_37","TNF4|aCD3+aCTLA-4","_39","_40","_41","_42","_43","_44","_45","TNF8|aCD3 only","_47","_48","TNF8","_50","_51","TNF8|aCD3+aCTLA-4","_p1","_p2","_p3"]},
           "axis": {"title": null, "values": ["IFN4|aCD3 only","IFN4|aCD3+aCTLA-4","IFN8|aCD3 only","IFN8|aCD3+aCTLA-4","TNF4|aCD3 only","TNF4|aCD3+aCTLA-4","TNF8|aCD3 only","TNF8|aCD3+aCTLA-4"], "labelExpr": "split(datum.value, '|')[1]", "labelAngle": -45, "labelAlign": "right", "labelBaseline": "middle", "tickSize": 9, "labelPadding": 6}},
     "y": {"field": "value", "type": "quantitative", "scale": {"domain": [0, 40], "nice": false},
           "axis": {"title": "% Cytokine⁺ cells", "titleX": -48, "values": [0,10,20,30,40], "labelExpr": "datum.value == 40 ? '(e)\u00a0\u00a0\u00a0\u00a0\u00a0\u00a0\u00a0\u00a0\u00a0\u00a040' : datum.label", "tickSize": 8, "labelPadding": 0}},
     "detail": {"field": "donor"}}},
   {"data": {"name": "cells"}, "mark": {"type": "point", "filled": true, "opacity": 1, "size": 140, "color": "black"},
    "encoding": {"x": {"field": "col", "type": "nominal"}, "y": {"field": "value", "type": "quantitative"},
     "shape": {"field": "group", "type": "nominal", "scale": {"domain": ["HC","sCOPD","AECOPD"], "range": ["circle","triangle-up","triangle-down"]}, "legend": null}}},
   {"data": {"name": "means_e"}, "mark": {"type": "tick", "orient": "horizontal", "size": 42, "thickness": 3, "color": "black", "opacity": 1},
    "encoding": {"x": {"field": "col", "type": "nominal"}, "y": {"field": "value", "type": "quantitative"}}},
   {"data": {"name": "divider_e"}, "mark": {"type": "rule", "strokeDash": [13, 7], "strokeWidth": 4, "color": "black"},
    "encoding": {"x": {"field": "col", "type": "nominal"}, "y": {"field": "hi", "type": "quantitative"}, "y2": {"field": "lo"}}},
   {"data": {"name": "sig_e"}, "mark": {"type": "rule", "strokeWidth": 3.5, "color": "black", "xOffset": -28.5, "x2Offset": 28.5},
    "encoding": {"x": {"field": "panel", "type": "nominal"}, "x2": {"field": "panel"}, "y": {"field": "level", "type": "quantitative"}}},
   {"data": {"name": "sig_e"}, "mark": {"type": "tick", "orient": "vertical", "size": 19, "thickness": 3.5, "color": "black", "opacity": 1, "xOffset": -28.5},
    "encoding": {"x": {"field": "panel", "type": "nominal"}, "y": {"field": "level", "type": "quantitative"}}},
   {"data": {"name": "sig_e"}, "mark": {"type": "tick", "orient": "vertical", "size": 19, "thickness": 3.5, "color": "black", "opacity": 1, "xOffset": 28.5},
    "encoding": {"x": {"field": "panel", "type": "nominal"}, "y": {"field": "level", "type": "quantitative"}}},
   {"data": {"name": "sig_e"}, "mark": {"type": "text", "fontSize": 17, "dy": 1, "baseline": "alphabetic", "align": "center", "color": "black"},
    "encoding": {"x": {"field": "panel", "type": "nominal"}, "y": {"field": "level", "type": "quantitative"}, "text": {"field": "label"}}},
   {"data": {"name": "boxes_e"}, "transform": [{"filter": "datum.kind == 'IFN'"}],
    "mark": {"type": "rect", "fill": "white", "stroke": "black", "strokeWidth": 2.5, "xOffset": -58, "x2Offset": 71},
    "encoding": {"x": {"field": "panel", "type": "nominal"}, "x2": {"field": "panel"}, "y": {"field": "hi", "type": "quantitative"}, "y2": {"field": "lo"}}},
   {"data": {"name": "boxes_e"}, "transform": [{"filter": "datum.kind == 'TNF'"}],
    "mark": {"type": "rect", "fill": "white", "stroke": "black", "strokeWidth": 2.5, "xOffset": -72.5, "x2Offset": 70},
    "encoding": {"x": {"field": "panel", "type": "nominal"}, "x2": {"field": "panel"}, "y": {"field": "hi", "type": "quantitative"}, "y2": {"field": "lo"}}},
   {"data": {"name": "boxes_e"}, "transform": [{"filter": "datum.kind == 'IFN'"}],
    "mark": {"type": "text", "fontSize": 16, "dx": 6.5, "dy": 20, "baseline": "middle", "align": "center", "color": "#1a1a1a"},
    "encoding": {"x": {"field": "panel", "type": "nominal"}, "y": {"field": "hi", "type": "quantitative"}, "text": {"field": "name"}}},
   {"data": {"name": "boxes_e"}, "transform": [{"filter": "datum.kind == 'TNF'"}],
    "mark": {"type": "text", "fontSize": 16, "dx": -1, "dy": 20, "baseline": "middle", "align": "center", "color": "#1a1a1a"},
    "encoding": {"x": {"field": "panel", "type": "nominal"}, "y": {"field": "hi", "type": "quantitative"}, "text": {"field": "name"}}}
  ]}
]
}
